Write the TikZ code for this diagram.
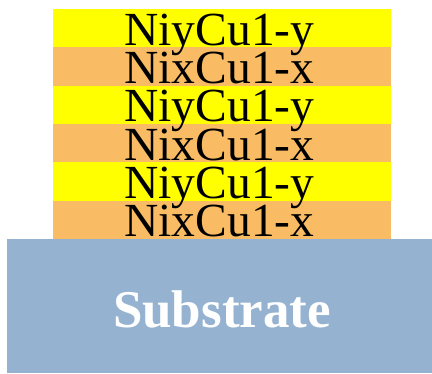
\documentclass[tikz,border=0pt]{standalone}
\usepackage{fontspec}
\setmainfont{Liberation Serif}
\definecolor{layerY}{HTML}{FFFF00}
\definecolor{layerX}{HTML}{F9BC64}
\definecolor{subst}{HTML}{95B3D1}
\begin{document}
\begin{tikzpicture}[x=1pt,y=-1pt,
  layer/.style={inner sep=0pt,outer sep=0pt,minimum width=338pt,minimum height=38.6pt,anchor=north west},
  ltext/.style={anchor=base,font=\fontsize{47.5}{47.5}\selectfont,inner sep=0pt},
  stext/.style={anchor=base,font=\fontsize{53}{53}\selectfont\bfseries,text=white,inner sep=0pt}]
\useasboundingbox (0,0) rectangle (432,373);
\fill[subst] (7,239) rectangle (432,373);
\node[layer,fill=layerY] (l1) at (53,9) {};
\node[layer,fill=layerX] (l2) at (53,47.33) {};
\node[layer,fill=layerY] (l3) at (53,85.67) {};
\node[layer,fill=layerX] (l4) at (53,124) {};
\node[layer,fill=layerY] (l5) at (53,162.33) {};
\node[layer,fill=layerX] (l6) at (53,200.67) {};
\node[ltext] (t1) at (219.5,45) {NiyCu1-y};
\node[ltext] (t2) at (219.5,83.33) {NixCu1-x};
\node[ltext] (t3) at (219.5,121.67) {NiyCu1-y};
\node[ltext] (t4) at (219.5,160) {NixCu1-x};
\node[ltext] (t5) at (219.5,198.33) {NiyCu1-y};
\node[ltext] (t6) at (219.5,236.67) {NixCu1-x};
\node[stext] (sub) at (222,327) {Substrate};
\end{tikzpicture}
\end{document}
